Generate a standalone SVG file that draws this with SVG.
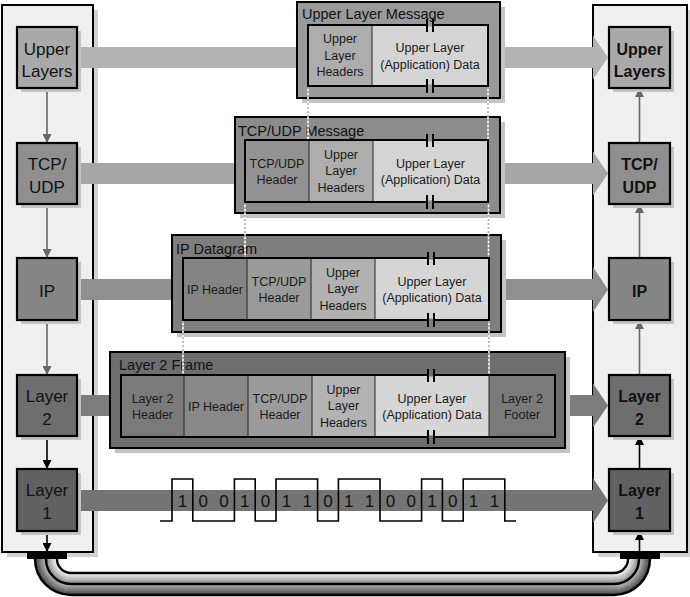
<svg xmlns="http://www.w3.org/2000/svg" width="690" height="597" viewBox="0 0 690 597">
<defs>
<style>
text{font-family:"Liberation Sans","DejaVu Sans",sans-serif;fill:#111}
.lbl{font-size:17px;text-anchor:middle}
.lblb{font-size:16px;text-anchor:middle;font-weight:bold}
.ttl{font-size:14.5px}
.cell{font-size:12.5px;text-anchor:middle;fill:#1a1a1a}
.bit{font-size:17px;text-anchor:middle}
.panel{fill:#efefef;stroke:#000;stroke-width:2}
.pshadow{fill:#d2d2d2}
.bshadow{fill:#c4c4c4}
.box{stroke:#000;stroke-width:2.2}
.outer{stroke:#000;stroke-width:2}
.inner{fill:none;stroke:#000;stroke-width:2}
.div{stroke:#222;stroke-width:1}
.arrg{stroke:#666;stroke-width:1.6;fill:none}
.arrk{stroke:#000;stroke-width:1.6;fill:none}
.dotg{stroke:#b0b0b0;stroke-width:1.6;stroke-dasharray:2 2}
.dotw{stroke:#fff;stroke-width:1.6;stroke-dasharray:2 2;stroke-dashoffset:2}
.brk{stroke:#000;stroke-width:2}
.cab{fill:none;stroke-width:2.4}
</style>
<marker id="ag" viewBox="0 0 10 10" refX="10" refY="5" markerWidth="9" markerHeight="9" markerUnits="userSpaceOnUse" orient="auto"><path d="M0,0 L10,5 L0,10 z" fill="#666"/></marker>
<marker id="ak" viewBox="0 0 10 10" refX="10" refY="5" markerWidth="9" markerHeight="9" markerUnits="userSpaceOnUse" orient="auto"><path d="M0,0 L10,5 L0,10 z" fill="#000"/></marker>
</defs>
<rect width="690" height="597" fill="#fff"/>

<!-- panels -->
<g id="left-stack">
<rect class="pshadow" x="7" y="10" width="91" height="547"/>
<rect class="panel" x="2" y="5" width="91" height="547"/>
</g>
<g id="right-stack">
<rect class="pshadow" x="598" y="10" width="94" height="547"/>
<rect class="panel" x="593" y="5" width="94" height="547"/>
</g>

<!-- connectors -->
<g id="connectors">
<rect x="77" y="47" width="220" height="21" fill="#b3b3b3"/>
<path d="M500 47 H593 V35.5 L608 57.5 L593 79.5 V68 H500 Z" fill="#b3b3b3"/>
<rect x="77" y="163" width="158" height="21" fill="#a6a6a6"/>
<path d="M500 163 H593 V151.5 L608 173.5 L593 195.5 V184 H500 Z" fill="#a6a6a6"/>
<rect x="77" y="279" width="95" height="21" fill="#8f8f8f"/>
<path d="M501 279 H593 V267 L608 289.5 L593 312 V300 H501 Z" fill="#8f8f8f"/>
<rect x="77" y="395" width="33" height="21" fill="#7c7c7c"/>
<path d="M565 395 H593 V383.5 L608 405.5 L593 427.5 V416 H565 Z" fill="#7c7c7c"/>
<path d="M77 490 H593 V478 L608 500.5 L593 523 V511 H77 Z" fill="#747474"/>
<line class="arrg" x1="47" y1="88" x2="47" y2="143" marker-end="url(#ag)"/>
<line class="arrg" x1="47" y1="204" x2="47" y2="258" marker-end="url(#ag)"/>
<line class="arrg" x1="47" y1="320" x2="47" y2="375" marker-end="url(#ag)"/>
<line class="arrk" x1="47" y1="436" x2="47" y2="469" marker-end="url(#ak)"/>
<line class="arrk" x1="47" y1="531" x2="47" y2="552" marker-end="url(#ak)"/>
<line class="arrg" x1="639.5" y1="143" x2="639.5" y2="88" marker-end="url(#ag)"/>
<line class="arrg" x1="639.5" y1="258" x2="639.5" y2="204" marker-end="url(#ag)"/>
<line class="arrg" x1="639.5" y1="375" x2="639.5" y2="320" marker-end="url(#ag)"/>
<line class="arrk" x1="639.5" y1="469" x2="639.5" y2="436" marker-end="url(#ak)"/>
<line class="arrk" x1="639.5" y1="552" x2="639.5" y2="531" marker-end="url(#ak)"/>
</g>

<!-- left nodes -->
<g id="l-upper"><rect class="bshadow" x="21" y="31" width="60" height="61"/><rect class="box" x="17" y="27" width="60" height="61" fill="#a9a9a9"/><text class="lbl" x="47" y="55">Upper</text><text class="lbl" x="47" y="77">Layers</text></g>
<g id="l-tcp"><rect class="bshadow" x="21" y="147" width="60" height="61"/><rect class="box" x="17" y="143" width="60" height="61" fill="#8f8f8f"/><text class="lbl" x="47" y="170">TCP/</text><text class="lbl" x="47" y="193">UDP</text></g>
<g id="l-ip"><rect class="bshadow" x="21" y="262" width="60" height="62"/><rect class="box" x="17" y="258" width="60" height="62" fill="#868686"/><text class="lbl" x="47" y="297">IP</text></g>
<g id="l-l2"><rect class="bshadow" x="21" y="379" width="60" height="61"/><rect class="box" x="17" y="375" width="60" height="61" fill="#6e6e6e"/><text class="lbl" x="47" y="402">Layer</text><text class="lbl" x="47" y="425">2</text></g>
<g id="l-l1"><rect class="bshadow" x="21" y="473" width="60" height="62"/><rect class="box" x="17" y="469" width="60" height="62" fill="#616161"/><text class="lbl" x="47" y="496">Layer</text><text class="lbl" x="47" y="519">1</text></g>

<!-- right nodes -->
<g id="r-upper"><rect class="bshadow" x="613" y="31" width="61" height="61"/><rect class="box" x="609" y="27" width="61" height="61" fill="#a9a9a9"/><text class="lblb" x="639.5" y="55">Upper</text><text class="lblb" x="639.5" y="77">Layers</text></g>
<g id="r-tcp"><rect class="bshadow" x="613" y="147" width="61" height="61"/><rect class="box" x="609" y="143" width="61" height="61" fill="#8f8f8f"/><text class="lblb" x="639.5" y="170">TCP/</text><text class="lblb" x="639.5" y="193">UDP</text></g>
<g id="r-ip"><rect class="bshadow" x="613" y="262" width="61" height="62"/><rect class="box" x="609" y="258" width="61" height="62" fill="#868686"/><text class="lblb" x="639.5" y="297">IP</text></g>
<g id="r-l2"><rect class="bshadow" x="613" y="379" width="61" height="61"/><rect class="box" x="609" y="375" width="61" height="61" fill="#6e6e6e"/><text class="lblb" x="639.5" y="402">Layer</text><text class="lblb" x="639.5" y="425">2</text></g>
<g id="r-l1"><rect class="bshadow" x="613" y="473" width="61" height="62"/><rect class="box" x="609" y="469" width="61" height="62" fill="#616161"/><text class="lblb" x="639.5" y="496">Layer</text><text class="lblb" x="639.5" y="519">1</text></g>

<!-- Upper Layer Message -->
<g id="msg-upper">
<rect class="bshadow" x="302" y="7" width="203" height="96"/>
<rect class="outer" x="297" y="2" width="203" height="96" fill="#9a9a9a"/>
<text class="ttl" x="302" y="19">Upper Layer Message</text>
<rect x="308" y="25" width="64" height="61" fill="#adadad"/>
<rect x="372" y="25" width="116" height="61" fill="#d4d4d4"/>
<line class="div" x1="372" y1="25" x2="372" y2="86"/>
<rect class="inner" x="308" y="25" width="180" height="61"/>
<text class="cell" x="340" y="43">Upper</text><text class="cell" x="340" y="59.5">Layer</text><text class="cell" x="340" y="76">Headers</text>
<text class="cell" x="430" y="52">Upper Layer</text><text class="cell" x="430" y="68.5">(Application) Data</text>
<rect x="427.5" y="23.5" width="5" height="3" fill="#9a9a9a"/><line class="brk" x1="427" y1="19" x2="427" y2="32"/><line class="brk" x1="433" y1="19" x2="433" y2="32"/>
<rect x="427.5" y="84.5" width="5" height="3" fill="#9a9a9a"/><line class="brk" x1="427" y1="79" x2="427" y2="93"/><line class="brk" x1="433" y1="79" x2="433" y2="93"/>
</g>

<!-- TCP/UDP Message -->
<g id="msg-tcp">
<rect class="bshadow" x="240" y="122" width="265" height="96"/>
<rect class="outer" x="235" y="117" width="265" height="96" fill="#8c8c8c"/>
<text class="ttl" x="238" y="136">TCP/UDP Message</text>
<rect x="245" y="140" width="64" height="62" fill="#939393"/>
<rect x="309" y="140" width="64" height="62" fill="#adadad"/>
<rect x="373" y="140" width="115" height="62" fill="#d4d4d4"/>
<line class="div" x1="309" y1="140" x2="309" y2="202"/><line class="div" x1="373" y1="140" x2="373" y2="202"/>
<rect class="inner" x="245" y="140" width="243" height="62"/>
<text class="cell" x="277" y="167.5">TCP/UDP</text><text class="cell" x="277" y="184">Header</text>
<text class="cell" x="341" y="158.5">Upper</text><text class="cell" x="341" y="175">Layer</text><text class="cell" x="341" y="191.5">Headers</text>
<text class="cell" x="430.5" y="167.5">Upper Layer</text><text class="cell" x="430.5" y="184">(Application) Data</text>
<rect x="427.5" y="138.5" width="5" height="3" fill="#8c8c8c"/><line class="brk" x1="427" y1="134" x2="427" y2="147"/><line class="brk" x1="433" y1="134" x2="433" y2="147"/>
<rect x="427.5" y="200.5" width="5" height="3" fill="#8c8c8c"/><line class="brk" x1="427" y1="195" x2="427" y2="209"/><line class="brk" x1="433" y1="195" x2="433" y2="209"/>
</g>

<!-- IP Datagram -->
<g id="msg-ip">
<rect class="bshadow" x="177" y="240" width="329" height="97"/>
<rect class="outer" x="172" y="235" width="329" height="97" fill="#7e7e7e"/>
<text class="ttl" x="176" y="254">IP Datagram</text>
<rect x="183" y="258" width="64" height="62" fill="#848484"/>
<rect x="247" y="258" width="64" height="62" fill="#9a9a9a"/>
<rect x="311" y="258" width="64" height="62" fill="#b1b1b1"/>
<rect x="375" y="258" width="114" height="62" fill="#d5d5d5"/>
<line class="div" x1="247" y1="258" x2="247" y2="320"/><line class="div" x1="311" y1="258" x2="311" y2="320"/><line class="div" x1="375" y1="258" x2="375" y2="320"/>
<rect class="inner" x="183" y="258" width="306" height="62"/>
<text class="cell" x="215" y="293.5">IP Header</text>
<text class="cell" x="279" y="285.5">TCP/UDP</text><text class="cell" x="279" y="302">Header</text>
<text class="cell" x="343" y="276.5">Upper</text><text class="cell" x="343" y="293">Layer</text><text class="cell" x="343" y="309.5">Headers</text>
<text class="cell" x="432" y="285.5">Upper Layer</text><text class="cell" x="432" y="302">(Application) Data</text>
<rect x="428.5" y="256.5" width="5" height="3" fill="#7e7e7e"/><line class="brk" x1="428" y1="252" x2="428" y2="265"/><line class="brk" x1="434" y1="252" x2="434" y2="265"/>
<rect x="428.5" y="318.5" width="5" height="3" fill="#7e7e7e"/><line class="brk" x1="428" y1="313" x2="428" y2="327"/><line class="brk" x1="434" y1="313" x2="434" y2="327"/>
</g>

<!-- Layer 2 Frame -->
<g id="msg-l2">
<rect class="bshadow" x="115" y="357" width="455" height="96"/>
<rect class="outer" x="110" y="352" width="455" height="96" fill="#6e6e6e"/>
<text class="ttl" x="119" y="370">Layer 2 Frame</text>
<rect x="121" y="375" width="63" height="62" fill="#7a7a7a"/>
<rect x="184" y="375" width="64" height="62" fill="#888"/>
<rect x="248" y="375" width="64" height="62" fill="#9b9b9b"/>
<rect x="312" y="375" width="63" height="62" fill="#b3b3b3"/>
<rect x="375" y="375" width="114" height="62" fill="#d6d6d6"/>
<rect x="489" y="375" width="66" height="62" fill="#7a7a7a"/>
<line class="div" x1="184" y1="375" x2="184" y2="437"/><line class="div" x1="248" y1="375" x2="248" y2="437"/><line class="div" x1="312" y1="375" x2="312" y2="437"/><line class="div" x1="375" y1="375" x2="375" y2="437"/><line class="div" x1="489" y1="375" x2="489" y2="437"/>
<rect class="inner" x="121" y="375" width="434" height="62"/>
<text class="cell" x="152.5" y="402.5">Layer 2</text><text class="cell" x="152.5" y="419">Header</text>
<text class="cell" x="216" y="410.5">IP Header</text>
<text class="cell" x="280" y="402.5">TCP/UDP</text><text class="cell" x="280" y="419">Header</text>
<text class="cell" x="343.5" y="393.5">Upper</text><text class="cell" x="343.5" y="410">Layer</text><text class="cell" x="343.5" y="426.5">Headers</text>
<text class="cell" x="432" y="402.5">Upper Layer</text><text class="cell" x="432" y="419">(Application) Data</text>
<text class="cell" x="522" y="402.5">Layer 2</text><text class="cell" x="522" y="419">Footer</text>
<rect x="428.5" y="373.5" width="5" height="3" fill="#6e6e6e"/><line class="brk" x1="428" y1="369" x2="428" y2="382"/><line class="brk" x1="434" y1="369" x2="434" y2="382"/>
<rect x="428.5" y="435.5" width="5" height="3" fill="#6e6e6e"/><line class="brk" x1="428" y1="430" x2="428" y2="444"/><line class="brk" x1="434" y1="430" x2="434" y2="444"/>
</g>

<!-- dotted alignment lines -->
<g id="guides">
<path class="dotg" d="M308 87 V139 M488 87 V139 M245 203 V257 M488.5 203 V257 M183 321 V374 M489 321 V374"/>
<path class="dotw" d="M308 87 V139 M488 87 V139 M245 203 V257 M488.5 203 V257 M183 321 V374 M489 321 V374"/>
</g>

<!-- Layer 1 signal -->
<g id="signal">
<path d="M160 521 H172 V479 H192.8 V521 H234.4 V479 H255.2 V521 H276 V479 H317.6 V521 H338.4 V479 H380 V521 H421.6 V479 H442.4 V521 H463.2 V479 H504.8 V521 H516" fill="none" stroke="#000" stroke-width="1.6"/>
<text class="bit" x="182.4" y="507">1</text><text class="bit" x="203.2" y="507">0</text><text class="bit" x="224" y="507">0</text><text class="bit" x="244.8" y="507">1</text>
<text class="bit" x="265.6" y="507">0</text><text class="bit" x="286.4" y="507">1</text><text class="bit" x="307.2" y="507">1</text><text class="bit" x="328" y="507">0</text>
<text class="bit" x="348.8" y="507">1</text><text class="bit" x="369.6" y="507">1</text><text class="bit" x="390.4" y="507">0</text><text class="bit" x="411.2" y="507">0</text>
<text class="bit" x="432" y="507">1</text><text class="bit" x="452.8" y="507">0</text><text class="bit" x="473.6" y="507">1</text><text class="bit" x="494.4" y="507">1</text>
</g>

<!-- physical cable -->
<g id="cable">
<path class="cab" stroke="#999" stroke-width="22" d="M46 557 V559 A25 25 0 0 0 71 584 H614 A25 25 0 0 0 639 559 V557"/>
<path class="cab" stroke="#f2f2f2" d="M56 557 V559 A15 15 0 0 0 71 574 H614 A15 15 0 0 0 629 559 V557"/>
<path class="cab" stroke="#dedede" d="M54 557 V559 A17 17 0 0 0 71 576 H614 A17 17 0 0 0 631 559 V557"/>
<path class="cab" stroke="#c8c8c8" d="M52 557 V559 A19 19 0 0 0 71 578 H614 A19 19 0 0 0 633 559 V557"/>
<path class="cab" stroke="#b2b2b2" d="M50 557 V559 A21 21 0 0 0 71 580 H614 A21 21 0 0 0 635 559 V557"/>
<path class="cab" stroke="#9c9c9c" d="M48 557 V559 A23 23 0 0 0 71 582 H614 A23 23 0 0 0 637 559 V557"/>
<path class="cab" stroke="#a8a8a8" d="M44 557 V559 A27 27 0 0 0 71 586 H614 A27 27 0 0 0 641 559 V557"/>
<path class="cab" stroke="#929292" d="M42 557 V559 A29 29 0 0 0 71 588 H614 A29 29 0 0 0 643 559 V557"/>
<path class="cab" stroke="#7b7b7b" d="M40 557 V559 A31 31 0 0 0 71 590 H614 A31 31 0 0 0 645 559 V557"/>
<path class="cab" stroke="#646464" d="M38 557 V559 A33 33 0 0 0 71 592 H614 A33 33 0 0 0 647 559 V557"/>
<path class="cab" stroke="#4c4c4c" d="M36 557 V559 A35 35 0 0 0 71 594 H614 A35 35 0 0 0 649 559 V557"/>
<path class="cab" stroke="#000" stroke-width="2" d="M57 557 V559 A14 14 0 0 0 71 573 H614 A14 14 0 0 0 628 559 V557"/>
<path class="cab" stroke="#000" stroke-width="2" d="M46 557 V559 A25 25 0 0 0 71 584 H614 A25 25 0 0 0 639 559 V557"/>
<path class="cab" stroke="#000" stroke-width="2.2" d="M35 557 V559 A36 36 0 0 0 71 595 H614 A36 36 0 0 0 650 559 V557"/>
<rect x="27" y="552" width="40" height="7" fill="#000"/>
<rect x="620" y="552" width="40" height="7" fill="#000"/>
</g>
</svg>
